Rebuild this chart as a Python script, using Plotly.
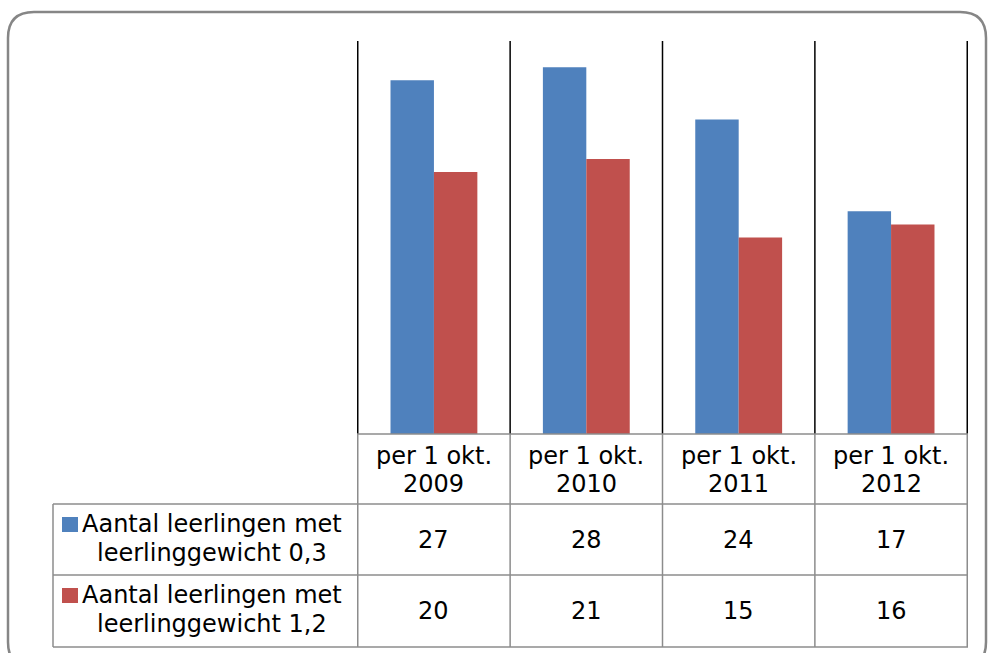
import plotly.graph_objects as go

W, H = 991, 653

years = ["2009", "2010", "2011", "2012"]
categories = [f"per 1 okt. {y}" for y in years]
header_line1 = "per 1 okt."
series_lines = [
    ["Aantal leerlingen met", "leerlinggewicht 0,3"],
    ["Aantal leerlingen met", "leerlinggewicht 1,2"],
]
values_03 = [27, 28, 24, 17]
values_12 = [20, 21, 15, 16]
series_values = [values_03, values_12]
series_colors = ["#4F81BD", "#C0504D"]

FONT = "DejaVu Sans, sans-serif"
FSIZE = 24
GRID = "#8C8C8C"


def px(x):
    return x / W


def py(y):
    return 1 - y / H


# plot area / table geometry (pixels)
PLOT_L, PLOT_R = 357, 968
PLOT_T, PLOT_B = 41, 434
TABLE_L = 53
ROW_Y = [434, 504, 575, 647]

fig = go.Figure()

for lines, vals, col in zip(series_lines, series_values, series_colors):
    fig.add_trace(go.Bar(
        x=categories,
        y=vals,
        name=" ".join(lines),
        marker=dict(color=col, line=dict(width=0)),
        showlegend=False,
        hoverinfo="x+y",
    ))

shapes = []

# outer rounded frame
r = 26
x0, x1, y0, y1 = 8, 986, 12, 668
path = (
    f"M {px(x0)},{py(y0 + r)} Q {px(x0)},{py(y0)} {px(x0 + r)},{py(y0)} "
    f"L {px(x1 - r)},{py(y0)} Q {px(x1)},{py(y0)} {px(x1)},{py(y0 + r)} "
    f"L {px(x1)},{py(y1 - r)} Q {px(x1)},{py(y1)} {px(x1 - r)},{py(y1)} "
    f"L {px(x0 + r)},{py(y1)} Q {px(x0)},{py(y1)} {px(x0)},{py(y1 - r)} Z"
)
shapes.append(dict(type="path", xref="paper", yref="paper", path=path,
                   line=dict(color="#868686", width=2.5)))

# category separators: black in plot area, grey through table
n = len(categories)
for i in range(n + 1):
    xv = i - 0.5
    shapes.append(dict(type="line", xref="x", yref="paper", x0=xv, x1=xv,
                       y0=py(PLOT_B), y1=py(PLOT_T),
                       line=dict(color="black", width=1.5)))
    shapes.append(dict(type="line", xref="x", yref="paper", x0=xv, x1=xv,
                       y0=py(ROW_Y[-1]), y1=py(PLOT_B),
                       line=dict(color=GRID, width=1.5)))

# table horizontal lines
shapes.append(dict(type="line", xref="paper", yref="paper",
                   x0=px(PLOT_L), x1=px(PLOT_R), y0=py(ROW_Y[0]), y1=py(ROW_Y[0]),
                   line=dict(color=GRID, width=1.5)))
for yv in ROW_Y[1:]:
    shapes.append(dict(type="line", xref="paper", yref="paper",
                       x0=px(TABLE_L), x1=px(PLOT_R), y0=py(yv), y1=py(yv),
                       line=dict(color=GRID, width=1.5)))
shapes.append(dict(type="line", xref="paper", yref="paper",
                   x0=px(TABLE_L), x1=px(TABLE_L), y0=py(ROW_Y[-1]), y1=py(ROW_Y[1]),
                   line=dict(color=GRID, width=1.5)))

annotations = []


def label(x, y, text, xref="paper"):
    annotations.append(dict(
        x=x, xref=xref, y=py(y), yref="paper", text=text, showarrow=False,
        xanchor="center", yanchor="middle",
        font=dict(family=FONT, size=FSIZE, color="black"),
    ))


# header row
for i, y in enumerate(years):
    label(i, 456, header_line1, xref="x")
    label(i, 484, y, xref="x")

# series rows
for r_i, (lines, vals, col) in enumerate(zip(series_lines, series_values, series_colors)):
    top = ROW_Y[r_i + 1]
    shapes.append(dict(type="rect", xref="paper", yref="paper",
                       x0=px(62), x1=px(78), y0=py(top + 28), y1=py(top + 13),
                       fillcolor=col, line=dict(width=0)))
    label(px(212), top + 20, lines[0])
    label(px(212), top + 49, lines[1])
    for i, v in enumerate(vals):
        label(i, top + 36, str(v), xref="x")

fig.update_layout(
    width=W, height=H, autosize=False,
    margin=dict(l=0, r=0, t=0, b=0),
    paper_bgcolor="white", plot_bgcolor="white",
    barmode="group", bargap=0.43, bargroupgap=0,
    font=dict(family=FONT, size=FSIZE, color="black"),
    xaxis=dict(domain=[px(PLOT_L), px(PLOT_R)], showticklabels=False,
               showgrid=False, zeroline=False, showline=False, ticks=""),
    yaxis=dict(domain=[py(PLOT_B), py(PLOT_T)], range=[0, 30],
               showticklabels=False, showgrid=False, zeroline=False,
               showline=False, ticks=""),
    shapes=shapes,
    annotations=annotations,
)

fig.write_html("out.html", config={"displayModeBar": False},
               post_script="document.body.style.margin='0';")
